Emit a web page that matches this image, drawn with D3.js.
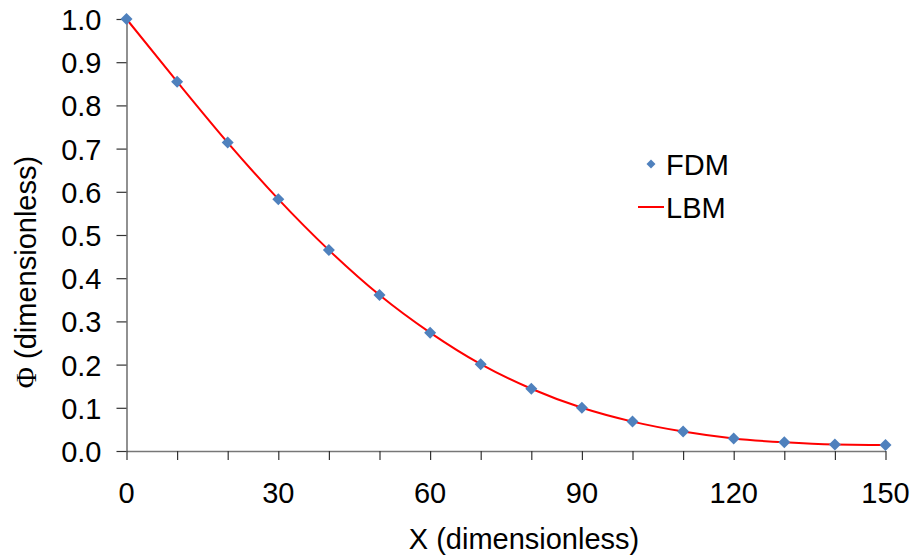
<!DOCTYPE html>
<html>
<head>
<meta charset="utf-8">
<script src="https://d3js.org/d3.v7.min.js"></script>
<style>
    body { margin: 0; background: #fff; }
    text { font-family: Arial, "Liberation Sans", sans-serif; fill: #000; }
</style>
</head>
<body>
<div id="chart"></div>
<script>
    // data
    const xValues = [0, 10, 20, 30, 40, 50, 60, 70, 80, 90, 100, 110, 120, 130, 140, 150]
    const fdmValues = [1.0, 0.855, 0.714, 0.583, 0.465, 0.361, 0.274, 0.201, 0.144, 0.100, 0.068, 0.045, 0.029, 0.020, 0.015, 0.014]
    const lbmValues = [1.0, 0.855, 0.714, 0.583, 0.465, 0.361, 0.274, 0.201, 0.144, 0.100, 0.068, 0.045, 0.029, 0.020, 0.015, 0.014]
    const xTicks = [0, 30, 60, 90, 120, 150]
    const yTicks = [0, 0.1, 0.2, 0.3, 0.4, 0.5, 0.6, 0.7, 0.8, 0.9, 1.0]
    const seriesNames = ["FDM", "LBM"]

    var width = 913, height = 559
    var FONT = "29px"

    var svg = d3.select("#chart").append("svg")
        .attr("width", width)
        .attr("height", height)

    var x = d3.scaleLinear().domain([0, 150]).range([126.5, 885.5])
    var y = d3.scaleLinear().domain([0, 1]).range([451, 19])

    // x axis, minor ticks every 10
    var xAxis = svg.append("g")
        .attr("transform", "translate(0," + y(0) + ")")
        .call(d3.axisBottom(x).tickValues(xValues).tickSize(9).tickSizeOuter(0).tickFormat(""))
    xAxis.select(".domain").attr("stroke", "#777").attr("stroke-width", 1.3)
    xAxis.selectAll(".tick line").attr("stroke", "#333").attr("stroke-width", 1.2)

    svg.append("g").selectAll("text")
        .data(xTicks)
        .enter().append("text")
        .attr("x", d => x(d))
        .attr("y", 503)
        .attr("text-anchor", "middle")
        .style("font-size", FONT)
        .text(d => d)

    var yAxis = svg.append("g")
        .attr("transform", "translate(" + x(0) + ",0)")
        .call(d3.axisLeft(y).tickValues(yTicks).tickSize(10).tickSizeOuter(0).tickPadding(15).tickFormat(d3.format(".1f")))
    yAxis.select(".domain").attr("stroke", "#555").attr("stroke-width", 1.3)
    yAxis.selectAll(".tick line").attr("stroke", "#333").attr("stroke-width", 1.2)
    yAxis.selectAll(".tick text")
        .style("font-size", FONT)
        .style("font-family", "Arial, 'Liberation Sans', sans-serif")
        .attr("fill", "#000")
        .attr("dy", "0.36em")

    // axis titles
    svg.append("text")
        .attr("x", 524)
        .attr("y", 549)
        .attr("text-anchor", "middle")
        .style("font-size", FONT)
        .text("X (dimensionless)")

    var yTitle = svg.append("text")
        .attr("transform", "translate(36,272) rotate(-90)")
        .attr("text-anchor", "middle")
        .style("font-size", FONT)
    yTitle.append("tspan")
        .style("font-family", "'Liberation Serif', 'DejaVu Serif', serif")
        .text("Φ")
    yTitle.append("tspan").text(" (dimensionless)")

    // LBM line
    var line = d3.line()
        .curve(d3.curveMonotoneX)
        .x((d, i) => x(xValues[i]))
        .y(d => y(d))

    svg.append("path")
        .datum(lbmValues)
        .attr("d", line)
        .attr("fill", "none")
        .attr("stroke", "#ff0000")
        .attr("stroke-width", 2)

    // FDM markers (square turned 45 degrees)
    var diamond = d3.symbol().type(d3.symbolSquare).size(72)
    svg.append("g").selectAll("path")
        .data(fdmValues)
        .enter().append("path")
        .attr("d", diamond)
        .attr("transform", (d, i) => "translate(" + x(xValues[i]) + "," + y(d) + ") rotate(45)")
        .attr("fill", "#4f81bd")

    // legend
    var legend = svg.append("g")
    legend.append("path")
        .attr("d", d3.symbol().type(d3.symbolSquare).size(40))
        .attr("transform", "translate(651,164) rotate(45)")
        .attr("fill", "#4f81bd")
    legend.append("line")
        .attr("x1", 638).attr("x2", 664)
        .attr("y1", 207).attr("y2", 207)
        .attr("stroke", "#ff0000")
        .attr("stroke-width", 2)
    legend.selectAll("text")
        .data(seriesNames)
        .enter().append("text")
        .attr("x", 666)
        .attr("y", (d, i) => 164.5 + i * 43)
        .attr("dy", "0.36em")
        .style("font-size", FONT)
        .text(d => d)
</script>
</body>
</html>
